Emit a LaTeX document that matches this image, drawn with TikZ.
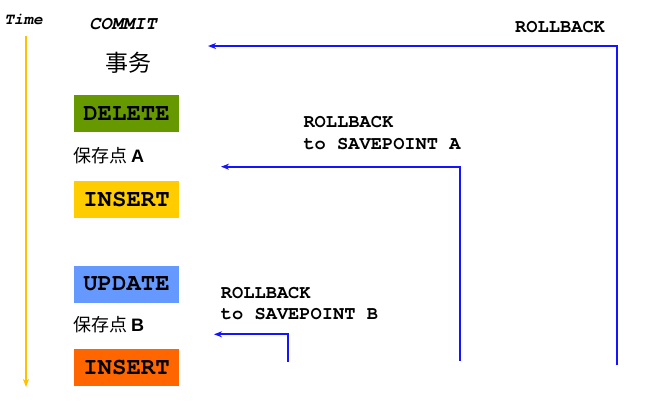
\documentclass[tikz,border=0pt]{standalone}
\usepackage{fontspec}
\setmainfont{Liberation Serif}
\newfontfamily\monob{TeX Gyre Cursor}
\newfontfamily\cjk{Noto Sans CJK SC}
\newfontfamily\sansb{Liberation Sans}
\usetikzlibrary{arrows.meta}
\definecolor{timeline}{RGB}{255,192,0}
\definecolor{rbblue}{RGB}{20,20,255}
\definecolor{delgreen}{RGB}{102,153,0}
\definecolor{insyellow}{RGB}{255,204,0}
\definecolor{updblue}{RGB}{102,153,255}
\definecolor{insorange}{RGB}{255,102,0}
\tikzset{
  opbox/.style={minimum width=105pt,minimum height=37pt,inner sep=0pt,
    font=\monob\bfseries\fontsize{24}{26}\selectfont},
  rbtext/.style={anchor=base west,inner sep=0pt,font=\monob\bfseries\fontsize{18.7}{21}\selectfont},
  cjklabel/.style={anchor=west,inner sep=0pt,font=\cjk\fontsize{18}{20}\selectfont},
  rbline/.style={draw=rbblue,line width=2pt,-{Stealth[length=8pt,width=6pt,inset=2.5pt]}},
}
\begin{document}
\begin{tikzpicture}[x=1pt,y=-1pt]
\useasboundingbox (0,0) rectangle (650,408);
% time axis
\node[inner sep=0pt,font=\monob\bfseries\itshape\fontsize{16}{18}\selectfont] (time) at (23.5,19) {Time};
\coordinate (tstart) at (26,36);
\coordinate (tend) at (26,387);
\draw[draw=timeline,line width=2pt,-{Stealth[length=8pt,width=6pt,inset=2.5pt]}] (tstart) -- (tend);
% left column
\node[inner sep=0pt,font=\monob\bfseries\itshape\fontsize{18.7}{21}\selectfont] (commit) at (123,24.5) {COMMIT};
\node[inner sep=0pt,font=\cjk\fontsize{23}{25}\selectfont] (tx) at (128,63) {事务};
\node[opbox,fill=delgreen] (del) at (126.5,113.3) {DELETE};
\node[cjklabel] (spA) at (73,155.5) {保存点 {\sansb\bfseries A}};
\node[opbox,fill=insyellow] (ins1) at (126.5,199) {INSERT};
\node[opbox,fill=updblue] (upd) at (126.5,284) {UPDATE};
\node[cjklabel] (spB) at (73,325) {保存点 {\sansb\bfseries B}};
\node[opbox,fill=insorange] (ins2) at (126.5,367) {INSERT};
% rollback labels
\node[rbtext] (rb) at (515,32) {ROLLBACK};
\node[rbtext] (rbA1) at (303.3,127.7) {ROLLBACK};
\node[rbtext] (rbA2) at (303.3,149) {to SAVEPOINT A};
\node[rbtext] (rbB1) at (220.7,298.3) {ROLLBACK};
\node[rbtext] (rbB2) at (220.7,319.7) {to SAVEPOINT B};
% rollback connectors
\coordinate (r1s) at (617,365);
\coordinate (r1t) at (208,46);
\coordinate (r2s) at (460,361);
\coordinate (r2t) at (221,166.7);
\coordinate (r3s) at (288,362);
\coordinate (r3t) at (214,334.3);
\draw[rbline] (r1s) |- (r1t);
\draw[rbline] (r2s) |- (r2t);
\draw[rbline] (r3s) |- (r3t);
\end{tikzpicture}
\end{document}
